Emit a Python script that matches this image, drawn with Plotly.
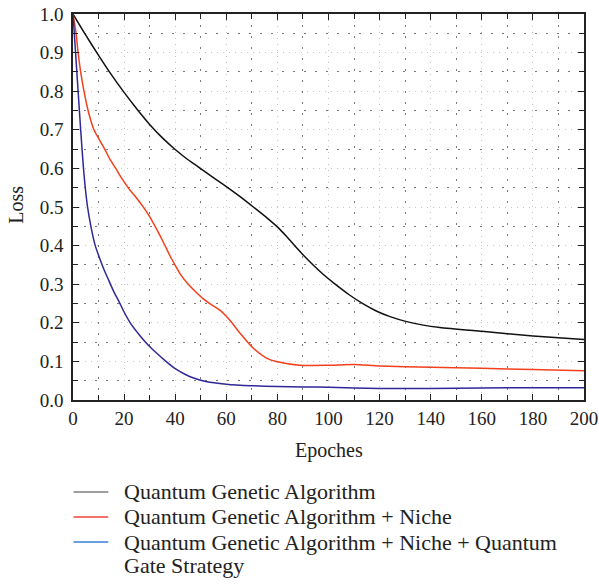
import plotly.graph_objects as go

# epochs and loss values
epochs_qga = [0, 5, 10, 15, 20, 25, 30, 35, 40, 44.5, 49, 54.5, 60, 65.4, 70.6, 75.9, 80.4, 83.7, 86.9, 90.2, 94.1, 98,
              102.6, 107.8, 113.6, 118.9, 124.1, 130.6, 137.1, 143.6, 160, 180, 200]
loss_qga = [1.0, 0.945, 0.893, 0.843, 0.797, 0.754, 0.714, 0.679, 0.649, 0.625, 0.604, 0.578, 0.553, 0.527, 0.5, 0.472,
            0.446, 0.423, 0.399, 0.375, 0.349, 0.325, 0.3, 0.274, 0.249, 0.23, 0.216, 0.203, 0.194, 0.188, 0.178, 0.166,
            0.157]

epochs_niche = [0, 1.2, 2, 3, 4.3, 5.9, 8.2, 12.4, 14.6, 16.9, 19.1, 21.7, 24.8, 27.6, 30, 32.2, 34.1, 36.1, 38, 40,
                42.2, 45.2, 48.5, 51, 53.7, 57.6, 60, 62.2, 65.4, 70.6, 75.9, 80, 88.8, 100, 110, 120, 140, 160, 180, 200]
loss_niche = [1.0, 0.95, 0.9, 0.85, 0.8, 0.75, 0.7, 0.65, 0.622, 0.598, 0.574, 0.549, 0.524, 0.499, 0.475, 0.449,
              0.425, 0.399, 0.373, 0.349, 0.324, 0.299, 0.277, 0.262, 0.249, 0.232, 0.217, 0.2, 0.173, 0.134, 0.108,
              0.099, 0.09, 0.09, 0.092, 0.088, 0.085, 0.082, 0.079, 0.076]

epochs_gate = [0, 1, 2, 3, 4.1, 4.8, 5.7, 7, 8.7, 10, 12, 14, 16, 18, 20, 22.4, 26.3, 29.5, 32.8, 36.4, 40, 44, 47.2,
               52, 60, 70, 80, 90, 100, 120, 140, 160, 180, 200]
loss_gate = [1.0, 0.9, 0.8, 0.7, 0.6, 0.55, 0.5, 0.45, 0.4, 0.375, 0.34, 0.31, 0.28, 0.255, 0.228, 0.2, 0.166, 0.142,
             0.121, 0.1, 0.081, 0.066, 0.057, 0.048, 0.041, 0.037, 0.035, 0.034, 0.033, 0.03, 0.03, 0.031, 0.032, 0.032]

legend_lines = [
    "Quantum Genetic Algorithm",
    "Quantum Genetic Algorithm + Niche",
    "Quantum Genetic Algorithm + Niche + Quantum",
    "Gate Strategy",
]
line_colors = ["#111111", "#f2401c", "#2f2896"]
legend_colors = ["#7f7f7f", "#f0453a", "#3a7fd0"]

FONT = "Liberation Serif"
INK = "#222222"

fig = go.Figure()
series = [(epochs_qga, loss_qga), (epochs_niche, loss_niche), (epochs_gate, loss_gate)]
for (xs, ys), color, name in zip(series, line_colors, legend_lines):
    fig.add_trace(
        go.Scatter(
            x=xs, y=ys, mode="lines", name=name,
            line=dict(color=color, width=1.5, shape="spline", smoothing=0.6),
            showlegend=False,
        )
    )

axis_common = dict(
    showline=True, linecolor=INK, linewidth=1.6, mirror="allticks",
    ticks="inside", ticklen=6, tickcolor=INK, tickwidth=1.2,
    showgrid=True, gridcolor="#c4c4c4", griddash="1px,5px", gridwidth=1,
    zeroline=False, tickfont=dict(family=FONT, size=19, color=INK),
    automargin=False, ticklabeloverflow="allow",
)
minor_common = dict(
    ticks="inside", ticklen=5, tickcolor=INK, tickwidth=1.2,
    showgrid=True, gridcolor="#7a7a7a", griddash="2px,9px", gridwidth=1,
)

fig.update_xaxes(range=[0, 200], dtick=20, ticklabelstandoff=0,
                 minor=dict(dtick=10, **minor_common), **axis_common)
fig.update_yaxes(range=[0, 1.0], dtick=0.1, tickformat=".1f", ticklabelstandoff=4,
                 minor=dict(dtick=0.05, **minor_common), **axis_common)

# axis titles
fig.add_annotation(text="Epoches", x=0.501, y=-0.13, xref="paper", yref="paper",
                   xanchor="center", yanchor="middle",
                   showarrow=False, font=dict(family=FONT, size=20, color=INK))
fig.add_annotation(text="Loss", x=-0.112, y=0.505, xref="paper", yref="paper", textangle=-90,
                   xanchor="center", yanchor="middle",
                   showarrow=False, font=dict(family=FONT, size=20, color=INK))

# legend below the plot: swatch lines plus labels
legend_y = [-0.2383, -0.3031, -0.3679, -0.430]
for i, color in enumerate(legend_colors):
    fig.add_shape(type="line", xref="paper", yref="paper", x0=0.001, x1=0.069,
                  y0=legend_y[i], y1=legend_y[i], line=dict(color=color, width=1.5))
for text, ly in zip(legend_lines, legend_y):
    fig.add_annotation(text=text, x=0.0968, y=ly, xref="paper", yref="paper", xanchor="left",
                       yanchor="middle", showarrow=False, font=dict(family=FONT, size=22, color=INK))

fig.update_layout(
    width=599, height=586,
    margin=dict(l=72.5, r=15, t=14, b=186),
    paper_bgcolor="white", plot_bgcolor="white",
    font=dict(family=FONT, size=19, color=INK),
    showlegend=False,
)

# drop the default 8px body margin so the figure fills the window
fig.write_html("out.html", config={"displayModeBar": False},
               post_script="document.body.style.margin='0';")
